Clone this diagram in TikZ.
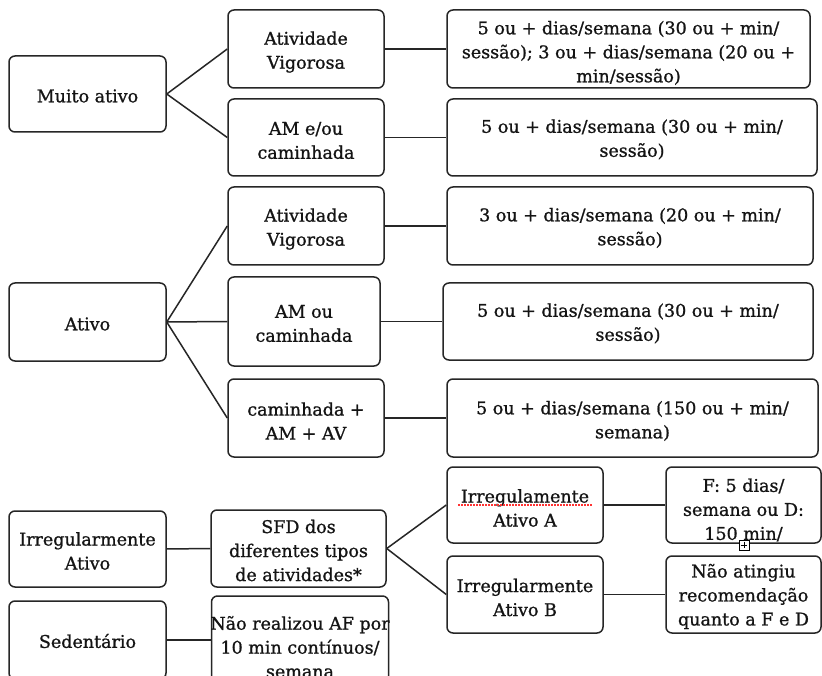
\documentclass[tikz,border=0pt]{standalone}
\usepackage{fontspec}
\setmainfont{DejaVu Serif}[FakeBold=1.0]
\newcommand\bxn[6]{%
  \node[bx, minimum width=#2, minimum height=#3] (#1) at #4 {};
  \node[txt] (#1-t) at ([yshift=#5]#1.center) {#6};}
\begin{document}
\begin{tikzpicture}[x=1pt,y=-1pt,
  bx/.style={draw=black!85, line width=1.5pt, rounded corners=6pt, inner sep=0pt},
  txt/.style={align=center, inner sep=0pt, font=\fontsize{17.5}{24}\selectfont, text=black!92},
  ln/.style={draw=black!85, line width=1.5pt}]
\useasboundingbox[fill=white] (0,0) rectangle (822,676);
% level 1
\bxn{ma}{157pt}{76pt}{(87.5,94)}{-2pt}{Muito ativo}
\bxn{at}{157pt}{78pt}{(87.5,322)}{-2pt}{Ativo}
\bxn{ia}{157pt}{76pt}{(87.5,549)}{-2pt}{Irregularmente\\Ativo}
\bxn{sed}{157pt}{78pt}{(87.5,640)}{-1pt}{Sedent\'ario}
% level 2
\bxn{av1}{156pt}{78pt}{(306,49)}{-3pt}{Atividade\\Vigorosa}
\bxn{am1}{156pt}{77pt}{(306,137.5)}{-3pt}{AM e/ou\\caminhada}
\bxn{av2}{156pt}{78pt}{(306,226)}{-3pt}{Atividade\\Vigorosa}
\bxn{am2}{152pt}{89pt}{(304,321.5)}{-2pt}{AM ou\\caminhada}
\bxn{cam}{156pt}{78pt}{(306,418)}{-3pt}{caminhada +\\AM + AV}
\bxn{sfd}{175pt}{77pt}{(298.5,548.5)}{-2pt}{SFD dos\\diferentes tipos\\de atividades*}
\bxn{nr}{177pt}{102pt}{(300,647)}{0pt}{Não realizou AF por\\10 min contínuos/\\semana}
% level 3
\bxn{d1}{363pt}{78pt}{(628.5,49)}{-4pt}{\fontsize{17.5}{27}\selectfont 5 ou + dias/semana (30 ou + min/\\sessão); 3 ou + dias/semana (20 ou +\\min/sessão)}
\bxn{d2}{370pt}{77pt}{(632,137.5)}{-2pt}{5 ou + dias/semana (30 ou + min/\\sessão)}
\bxn{d3}{366pt}{78pt}{(630,226)}{-2pt}{3 ou + dias/semana (20 ou + min/\\sessão)}
\bxn{d4}{370pt}{77pt}{(628,321.5)}{-2pt}{5 ou + dias/semana (30 ou + min/\\sessão)}
\bxn{d5}{371pt}{78pt}{(632.5,418)}{-3pt}{5 ou + dias/semana (150 ou + min/\\semana)}
\bxn{iaA}{156pt}{76pt}{(525,505)}{-3pt}{Irregulamente\\Ativo A}
\bxn{iaB}{156pt}{77pt}{(525,594.5)}{-3pt}{Irregularmente\\Ativo B}
% level 4
\bxn{f}{155pt}{76pt}{(743.5,505)}{-5pt}{F: 5 dias/\\semana ou D:\\150 min/}
\bxn{na}{155pt}{77pt}{(743.5,594.5)}{-2pt}{Não atingiu\\recomendação\\quanto a F e D}
% connectors
\draw[ln] (ma.east) -- (av1.west);
\draw[ln] (ma.east) -- (am1.west);
\draw[ln] (av1.east) -- (d1.west);
\draw[ln] (am1.east) -- (d2.west);
\draw[ln] (at.east) -- (av2.west);
\draw[ln] (at.east) -- (am2.west);
\draw[ln] (at.east) -- (cam.west);
\draw[ln] (av2.east) -- (d3.west);
\draw[ln] (am2.east) -- (d4.west);
\draw[ln] (cam.east) -- (d5.west);
\draw[ln] (ia.east) -- (sfd.west);
\draw[ln] (sed.east) -- (sed.east -| nr.west);
\draw[ln] (sfd.east) -- (iaA.west);
\draw[ln] (sfd.east) -- (iaB.west);
\draw[ln] (iaA.east) -- (f.west);
\draw[ln] (iaB.east) -- (na.west);
% spell-check underline
\draw[red!80, line width=1.2pt, dash pattern=on 1.5pt off 1.5pt] (458,505) -- (592,505);
% overflow marker
\node[draw=black, fill=white, line width=0.8pt, minimum size=10pt, inner sep=0pt] (plus) at (744,545) {};
\draw[line width=0.8pt] (plus.north) ++(0,2) -- ++(0,6);
\draw[line width=0.8pt] (plus.west) ++(2,0) -- ++(6,0);
\end{tikzpicture}
\end{document}
